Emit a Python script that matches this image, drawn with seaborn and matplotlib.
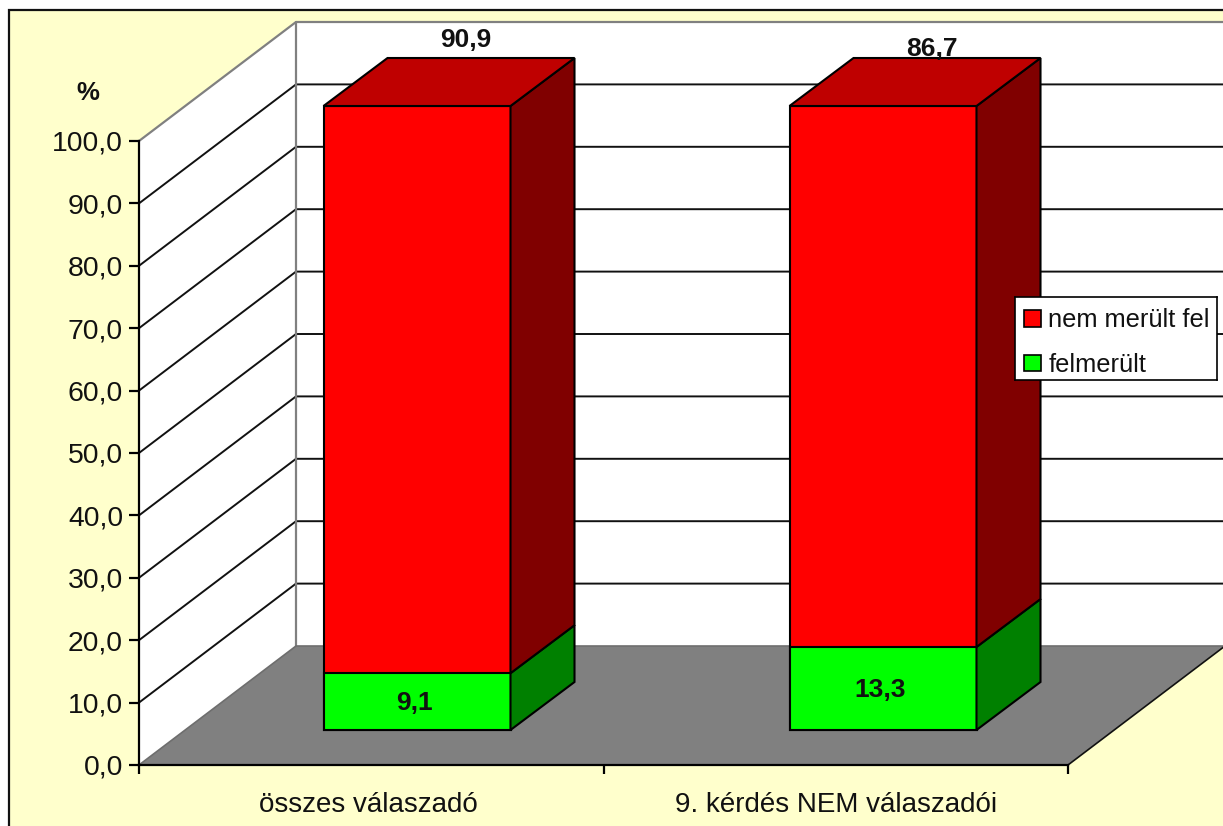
import numpy as np
import matplotlib
matplotlib.use('Agg')
import matplotlib.pyplot as plt
from matplotlib.patches import Patch, Polygon, Rectangle
from matplotlib.transforms import ScaledTranslation
import seaborn as sns

categories = ['összes válaszadó', '9. kérdés NEM válaszadói']
nem_merult = [90.9, 86.7]
felmerult = [9.1, 13.3]
y_ticks = [0, 10, 20, 30, 40, 50, 60, 70, 80, 90, 100]
y_ticklabels = ['0,0', '10,0', '20,0', '30,0', '40,0', '50,0', '60,0', '70,0', '80,0', '90,0', '100,0']
red_label_lift = [10.6, 9.2]

sns.set_theme(style='white')
plt.rcParams['font.family'] = ['Liberation Sans', 'DejaVu Sans']

W, H = 1223, 826
fig = plt.figure(figsize=(W / 100, H / 100), dpi=100, facecolor='white')

# pixel box -> figure fractions
def box(x0, y_top, x1, y_bottom):
    return [x0 / W, 1 - y_bottom / H, (x1 - x0) / W, (y_bottom - y_top) / H]

# chart area, runs off the right and bottom like the original
fig.add_artist(Rectangle((8.5 / W, -0.05), 1.1, 1.05 - 10.5 / H, transform=fig.transFigure,
                         facecolor='#FFFFCC', edgecolor='#111111', linewidth=1.6, zorder=-1))

# front plane of the box
ax = fig.add_axes(box(139, 141, 1068, 765), facecolor='none', zorder=1)
ax.set_xlim(-0.5, 1.5)
ax.set_ylim(0, 100)
wall_dx = 157 / 464.5
wall_dy = 119 / 6.24
grey = '#808080'

ax.add_patch(Polygon([(-0.5, 0), (-0.5 + wall_dx, wall_dy), (-0.5 + wall_dx, 100 + wall_dy), (-0.5, 100)],
                     facecolor='white', edgecolor='none', clip_on=False, zorder=0.5))
ax.add_patch(Polygon([(-0.5 + wall_dx, wall_dy), (1.5 + wall_dx, wall_dy), (1.5 + wall_dx, 100 + wall_dy),
                      (-0.5 + wall_dx, 100 + wall_dy)],
                     facecolor='white', edgecolor='none', clip_on=False, zorder=0.5))
ax.add_patch(Polygon([(-0.5, 0), (1.5, 0), (1.5 + wall_dx, wall_dy), (-0.5 + wall_dx, wall_dy)],
                     facecolor=grey, edgecolor='none', clip_on=False, zorder=0.6))

for t in y_ticks[1:-1]:
    ax.plot([-0.5, -0.5 + wall_dx, 1.5 + wall_dx], [t, t + wall_dy, t + wall_dy],
            color='#111111', linewidth=1.4, clip_on=False, zorder=0.8)
ax.plot([-0.5, -0.5 + wall_dx, 1.5 + wall_dx], [100, 100 + wall_dy, 100 + wall_dy],
        color=grey, linewidth=1.6, clip_on=False, zorder=0.8)
ax.plot([-0.5 + wall_dx, -0.5 + wall_dx], [wall_dy, 100 + wall_dy], color=grey, linewidth=1.6, clip_on=False, zorder=0.8)
ax.plot([-0.5, -0.5 + wall_dx, 1.5 + wall_dx], [0, wall_dy, wall_dy], color='#6e6e6e', linewidth=1.2, clip_on=False, zorder=0.8)
ax.plot([1.5, 1.5 + wall_dx], [0, wall_dy], color='#111111', linewidth=1.2, clip_on=False, zorder=0.8)

for side in ['top', 'right']:
    ax.spines[side].set_visible(False)
for side in ['left', 'bottom']:
    ax.spines[side].set_color('black')
    ax.spines[side].set_linewidth(1.6)
ax.set_yticks(y_ticks, y_ticklabels, fontsize=20.4, color='#111111')
ax.set_xticks([0, 1], categories, fontsize=20, color='#111111')
ax.set_xticks([-0.5, 0.5, 1.5], minor=True)
ax.tick_params(axis='y', length=7, width=1.6, pad=4.5, left=True, color='black')
ax.tick_params(axis='x', which='major', length=0, pad=19.5)
ax.tick_params(axis='x', which='minor', length=6.5, width=1.6, bottom=True, color='black')
first = ax.get_xticklabels()[0]
first.set_transform(first.get_transform() + ScaledTranslation(-3 / 100, 0, fig.dpi_scale_trans))
fig.text(88 / W, 1 - 92.5 / H, '%', fontsize=18.5, fontweight='bold', ha='center', va='center', color='#111111')

# bars sit halfway into the box, on their own shifted axes
bar_ax = fig.add_axes(box(184, 106, 1116, 730), facecolor='none', zorder=2)
total = np.array(nem_merult) + np.array(felmerult)
bar_width = 187 / 466
sns.barplot(x=categories, y=total, color='#FF0000', saturation=1, width=bar_width,
            edgecolor='black', linewidth=1.5, ax=bar_ax)
sns.barplot(x=categories, y=felmerult, color='#00FF00', saturation=1, width=bar_width,
            edgecolor='black', linewidth=1.5, ax=bar_ax)
for p in bar_ax.patches:
    p.set_clip_on(False)
bar_ax.set_xlim(-0.5, 1.5)
bar_ax.set_ylim(0, 100)
bar_ax.axis('off')

depth_dx = 64 / 466
depth_dy = 48 / 6.24
for i in range(len(categories)):
    right = i + bar_width / 2
    left = i - bar_width / 2
    low = felmerult[i]
    top = total[i]
    # green side, red side, top
    bar_ax.add_patch(Polygon([(right, 0), (right + depth_dx, depth_dy), (right + depth_dx, low + depth_dy), (right, low)],
                             facecolor='#008000', edgecolor='black', linewidth=1.5, clip_on=False))
    bar_ax.add_patch(Polygon([(right, low), (right + depth_dx, low + depth_dy), (right + depth_dx, top + depth_dy), (right, top)],
                             facecolor='#800000', edgecolor='black', linewidth=1.5, clip_on=False))
    bar_ax.add_patch(Polygon([(left, top), (left + depth_dx, top + depth_dy), (right + depth_dx, top + depth_dy), (right, top)],
                             facecolor='#BF0000', edgecolor='black', linewidth=1.5, clip_on=False))
    bar_ax.text(i - 0.006, low / 2 - 0.3, f'{low:.1f}'.replace('.', ','), fontsize=19, fontweight='bold',
                ha='center', va='center', color='#111111', zorder=5)
    bar_ax.text(i + 0.105, top + red_label_lift[i], f'{nem_merult[i]:.1f}'.replace('.', ','), fontsize=19,
                fontweight='bold', ha='center', va='center', color='#111111', zorder=5, clip_on=False)

# legend frame drawn apart so the rows can sit lower in it
legend_ax = fig.add_axes(box(1015, 297, 1217, 380), facecolor='white', zorder=4)
legend_ax.set_xticks([])
legend_ax.set_yticks([])
for spine in legend_ax.spines.values():
    spine.set_color('black')
    spine.set_linewidth(1.2)

handles = [Patch(facecolor='#FF0000', edgecolor='black', linewidth=1.2, label='nem merült fel'),
           Patch(facecolor='#00FF00', edgecolor='black', linewidth=1.2, label='felmerült')]
leg = legend_ax.legend(handles=handles, loc='upper left', bbox_to_anchor=(0.006, 0.955),
                       fontsize=18.3, frameon=False, handlelength=0.68, handleheight=0.62,
                       handletextpad=0.28, labelspacing=0.8, borderpad=0.3, borderaxespad=0,
                       labelcolor='#111111')

fig.savefig('out.png', dpi=100, facecolor=fig.get_facecolor())
